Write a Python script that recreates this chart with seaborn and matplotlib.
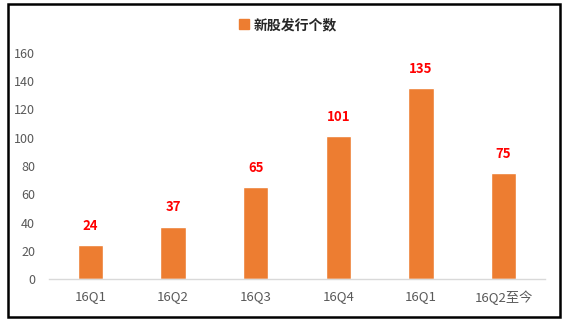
import matplotlib
matplotlib.use("Agg")
import matplotlib.pyplot as plt
import seaborn as sns
import pandas as pd
from matplotlib.patches import Rectangle
from matplotlib.lines import Line2D

categories = ["16Q1", "16Q2", "16Q3", "16Q4", "16Q1", "16Q2至今"]
values = [24, 37, 65, 101, 135, 75]
series_name = "新股发行个数"
yticks = [0, 20, 40, 60, 80, 100, 120, 140, 160]

sns.set_theme(style="white")
plt.rcParams['font.family'] = ['Noto Sans CJK SC', 'DejaVu Sans']

W, H = 566, 324
fig = plt.figure(figsize=(W/100, H/100), dpi=100)
ax = fig.add_axes([49/W, (H-279)/H, (545-49)/W, (279-53)/H])

df = pd.DataFrame({"cat": range(len(categories)), "val": values})
color = "#ED7D31"
sns.barplot(data=df, x="cat", y="val", color=color, width=0.31, ax=ax,
            saturation=1, native_scale=False)

ax.set_xlim(-0.5, len(categories)-0.5)
ax.set_ylim(0, 160)
ax.set_yticks(yticks)
ax.set_yticklabels([str(t) for t in yticks], fontsize=9, color="#595959")
ax.set_xticks(range(len(categories)))
ax.set_xticklabels(categories, fontsize=9.5, color="#595959")
ax.tick_params(axis="both", length=0, pad=8)
ax.tick_params(axis="y", pad=10)
ax.set_xlabel("")
ax.set_ylabel("")
for s in ["top", "right", "left"]:
    ax.spines[s].set_visible(False)
ax.spines["bottom"].set_color("#D9D9D9")
ax.spines["bottom"].set_linewidth(1)

for i, v in enumerate(values):
    ax.annotate(str(v), (i, v), xytext=(0, 9), textcoords="offset points",
                ha="center", va="bottom", color="#FF0000", fontsize=9.5,
                fontweight="bold")

# legend
handle = Line2D([], [], marker="s", linestyle="none", markersize=7,
                markerfacecolor=color, markeredgecolor=color)
fig.legend([handle], [series_name], loc="center", bbox_to_anchor=(287/W, 1-25/H),
           frameon=False, prop={"weight": "bold", "size": 10},
           handletextpad=0.2, handlelength=1)

# border
fig.patches.append(Rectangle((8/W, 1-317/H), (560-8)/W, (317-4)/H,
                             transform=fig.transFigure, fill=False,
                             edgecolor="black", linewidth=1.8))

fig.savefig("out.png", dpi=100)
